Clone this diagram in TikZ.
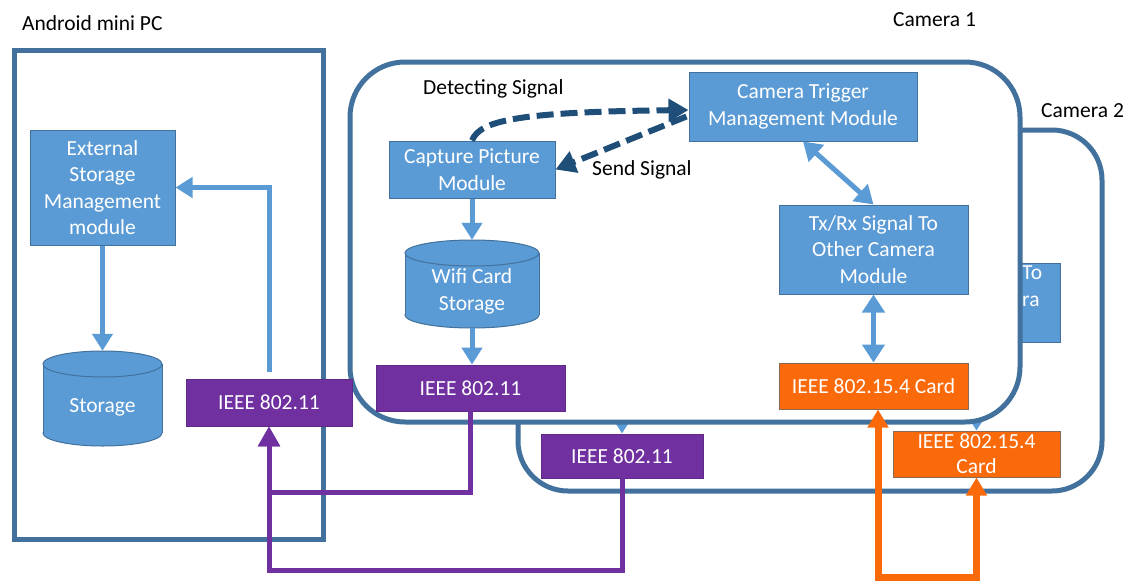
\documentclass[tikz,border=0pt]{standalone}
\usepackage{fontspec}
\setmainfont{Carlito}
\usetikzlibrary{arrows.meta,calc}
\definecolor{boxblue}{HTML}{5B9BD5}
\definecolor{boxedge}{HTML}{41719C}
\definecolor{frame}{HTML}{41719C}
\definecolor{arrowblue}{HTML}{5B9BD5}
\definecolor{darkblue}{HTML}{1F4E79}
\definecolor{purp}{HTML}{7030A0}
\definecolor{orng}{HTML}{FA6A0A}
\definecolor{orngedge}{HTML}{8A6A55}
\newcommand{\bxfont}{\fontsize{21.5}{26.5}\selectfont}
\newcommand{\zgfont}{\fontsize{21.5}{25}\selectfont}
\newcommand{\drawcyl}[5]{%
  \path[fill=boxblue, draw=boxedge, line width=1pt] (#1,#3-#5) ellipse [x radius=#4, y radius=#5];
  \path[fill=boxblue] (#1-#4,#2+#5) rectangle (#1+#4,#3-#5);
  \draw[boxedge, line width=1pt] (#1-#4,#2+#5) -- (#1-#4,#3-#5) (#1+#4,#2+#5) -- (#1+#4,#3-#5);
  \path[fill=boxblue, draw=boxedge, line width=1pt] (#1,#2+#5) ellipse [x radius=#4, y radius=#5];
}
\tikzset{
  module/.style={rectangle, fill=boxblue, draw=boxedge, line width=1pt, text=white, align=center, font=\bxfont, inner sep=0pt},
  wifibox/.style={rectangle, fill=purp, draw=purp!85!black, line width=0.8pt, text=white, align=center, font=\bxfont, inner sep=0pt},
  zigbox/.style={rectangle, fill=orng, draw=orngedge, line width=1pt, text=white, align=center, font=\bxfont, inner sep=0pt},
  cylanchor/.style={rectangle, draw=none, inner sep=0pt},
  cyltext/.style={text=white, align=center, font=\bxfont, inner sep=0pt},
  lbl/.style={text=black, font=\bxfont, inner sep=0pt},
  container/.style={draw=frame, line width=5pt},
  flow/.style={draw=arrowblue, line width=5pt, -{Triangle[width=20pt,length=17pt]}},
  biflow/.style={draw=arrowblue, line width=5pt, {Triangle[width=22pt,length=18pt]}-{Triangle[width=22pt,length=18pt]}},
  signal/.style={draw=darkblue, line width=6pt, dash pattern=on 17pt off 7pt, -{Triangle[width=22pt,length=20pt]}},
  purplink/.style={draw=purp, line width=5pt, -{Triangle[width=21pt,length=20pt]}},
  oranlink/.style={draw=orng, line width=7pt, {Triangle[width=20pt,length=18pt]}-{Triangle[width=20pt,length=18pt]}},
}
\begin{document}
\begin{tikzpicture}[x=1pt,y=-1pt]
\useasboundingbox (0,0) rectangle (1138,581);

% Android mini PC
\draw[container] (14,50) rectangle (323,539);
\node[lbl, anchor=base west] (andlbl) at (22,30) {Android mini PC};

% Camera 2 (behind)
\draw[container, fill=white, rounded corners=50pt] (518,130) rectangle (1102,491);
\node[lbl, anchor=base west] (cam2lbl) at (1041,117) {Camera 2};
\node[module, minimum width=60pt, minimum height=79pt] (txrx2) at (1030,302.5) {};
\node[cyltext, anchor=north west, align=left] (txrx2txt) at (1022,266) {To\\ra};
\node[wifibox, minimum width=162pt, minimum height=44pt] (ieee2) at (622,456) {IEEE 802.11};
\node[zigbox, minimum width=167pt, minimum height=46pt, font=\zgfont] (zig2) at (976.5,454) {IEEE 802.15.4\\Card};
\draw[flow] ($(ieee2.north)+(0,-40)$) -- (ieee2.north);
\draw[biflow] ($(zig2.north)+(0,-60)$) -- (zig2.north);

% Camera 1
\draw[container, fill=white, rounded corners=55pt] (350,62) rectangle (1020,422);
\node[lbl, anchor=base west] (cam1lbl) at (893,26) {Camera 1};

% cylinders
\drawcyl{472}{240}{328}{67}{13}
\drawcyl{102.5}{351}{446}{59.5}{13}
\node[cylanchor, minimum width=134pt, minimum height=88pt] (wifi) at (472,284) {};
\node[cyltext] (wifitxt) at (472,291.5) {Wifi Card\\Storage};
\node[cylanchor, minimum width=119pt, minimum height=95pt] (stor) at (102.5,398.5) {};
\node[cyltext] (stortxt) at (102.5,407) {Storage};

% modules
\node[module, minimum width=145pt, minimum height=115pt] (ext) at (102.5,187.5) {External\\Storage\\Management\\module};
\node[module, minimum width=166pt, minimum height=57pt] (capture) at (472,169.5) {Capture Picture\\Module};
\node[module, minimum width=228pt, minimum height=69pt] (trigger) at (803,106.5) {Camera Trigger\\Management Module};
\node[module, minimum width=189pt, minimum height=89pt] (txrx) at (873.5,249.5) {Tx/Rx Signal To\\Other Camera\\Module};
\node[wifibox, minimum width=166pt, minimum height=47pt] (ieeeL) at (269,402.5) {IEEE 802.11};
\node[wifibox, minimum width=189pt, minimum height=46pt] (ieee1) at (470.5,388) {IEEE 802.11};
\node[zigbox, minimum width=189pt, minimum height=46pt] (zig1) at (873.5,386) {IEEE 802.15.4 Card};

% labels
\node[lbl, anchor=base west] (detlbl) at (423,94) {Detecting Signal};
\node[lbl, anchor=base west] (sendlbl) at (592,175) {Send Signal};

% blue flows
\draw[flow] (capture.south) -- (wifi.north);
\draw[flow] (wifi.south) -- (wifi.south |- ieee1.north);
\draw[biflow] (trigger.south) -- (txrx.north);
\draw[biflow] (txrx.south) -- (zig1.north);
\draw[flow] ($(ieeeL.north)+(0,-7)$) |- (ext.east);
\draw[flow] (ext.south) -- (stor.north);

% signals
\draw[signal] (capture.north) .. controls (480,120) and (520,112) .. ($(trigger.west)+(0,3.5)$);
\draw[signal] ($(trigger.west)+(-2,10)$) -- (capture.east);

% purple links
\coordinate (j1) at (269,492);
\coordinate (j2) at (269,570);
\draw[purplink] (ieee1.south) |- (j1) -- (ieeeL.south);
\draw[purplink] (ieee2.south) |- (j2) -- (ieeeL.south);

% orange link
\draw[oranlink] ($(zig1.south)+(4.5,0)$) -- ++(0,168) -| (zig2.south);
\end{tikzpicture}
\end{document}
